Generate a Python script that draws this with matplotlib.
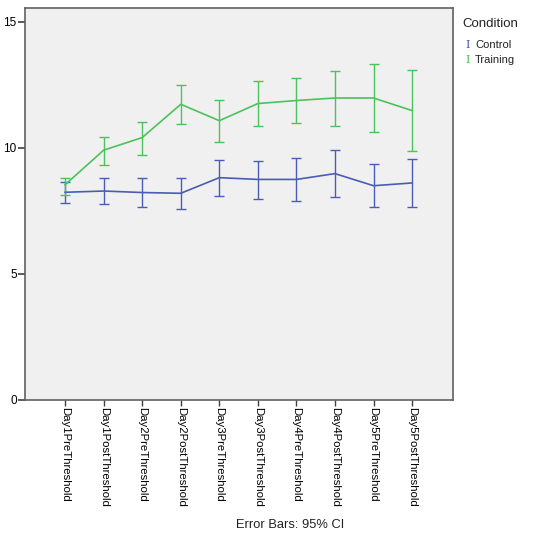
import matplotlib
matplotlib.use("Agg")
import matplotlib.pyplot as plt
import numpy as np

categories = ["Day1PreThreshold", "Day1PostThreshold", "Day2PreThreshold", "Day2PostThreshold",
              "Day3PreThreshold", "Day3PostThreshold", "Day4PreThreshold", "Day4PostThreshold",
              "Day5PreThreshold", "Day5PostThreshold"]
control_mean = [8.24, 8.29, 8.23, 8.20, 8.82, 8.75, 8.75, 8.98, 8.50, 8.61]
control_upper = [8.64, 8.82, 8.82, 8.82, 9.52, 9.50, 9.58, 9.92, 9.38, 9.55]
control_lower = [7.83, 7.78, 7.65, 7.57, 8.10, 7.99, 7.90, 8.04, 7.67, 7.67]
training_mean = [8.54, 9.91, 10.41, 11.73, 11.08, 11.76, 11.88, 11.98, 11.98, 11.48]
training_upper = [8.80, 10.45, 11.04, 12.50, 11.89, 12.64, 12.76, 13.07, 13.33, 13.10]
training_lower = [8.13, 9.33, 9.72, 10.95, 10.24, 10.87, 11.00, 10.87, 10.62, 9.89]
yticks = [0, 5, 10, 15]

BLUE = "#4a5cb4"
GREEN = "#4cc25a"

plt.rcParams['font.family'] = ['Liberation Sans', 'DejaVu Sans']

fig = plt.figure(figsize=(5.4, 5.45), dpi=100)
ax = fig.add_axes([25/540, 1-400/545, (453-25)/540, (400-8)/545])
ax.set_facecolor("#f0f0f0")
x = np.arange(len(categories))

for mean, up, lo, col in [(control_mean, control_upper, control_lower, BLUE),
                          (training_mean, training_upper, training_lower, GREEN)]:
    mean = np.array(mean); up = np.array(up); lo = np.array(lo)
    ax.errorbar(x, mean, yerr=[mean - lo, up - mean], color=col, lw=1.2,
                elinewidth=1.0, capsize=3.6, capthick=1.0)

ax.set_xlim(-1.04, len(categories) - 1 + 1.06)
ax.set_ylim(0, 15.55)
ax.set_yticks(yticks)
ax.set_yticklabels([str(v) for v in yticks], fontsize=8.5)
ax.set_xticks(x)
ax.set_xticklabels(categories, rotation=270, fontsize=8.2, va='top', ha='center')
for s in ax.spines.values():
    s.set_color("#606060")
    s.set_linewidth(1.2)
ax.tick_params(axis='y', direction='out', length=5, width=1.2, color="#404040", pad=1)
ax.tick_params(axis='x', direction='out', length=4, width=1.0, color="#404040", pad=1)

fig.text(290/540, 1-525/545, "Error Bars: 95% CI", ha='center', va='center', fontsize=9.3, color="#222222")

fig.text(462/540, 1-24/545, "Condition", ha='left', va='center', fontsize=9.5, color="#222222")
fig.text(465/540, 1-45/545, "I", ha='left', va='center', fontsize=8, color=BLUE, family='DejaVu Serif')
fig.text(475/540, 1-45/545, "Control", ha='left', va='center', fontsize=8, color="#222222")
fig.text(465/540, 1-60/545, "I", ha='left', va='center', fontsize=8, color=GREEN, family='DejaVu Serif')
fig.text(475/540, 1-60/545, "Training", ha='left', va='center', fontsize=8, color="#222222")

fig.savefig("out.png", dpi=100, facecolor="white")
